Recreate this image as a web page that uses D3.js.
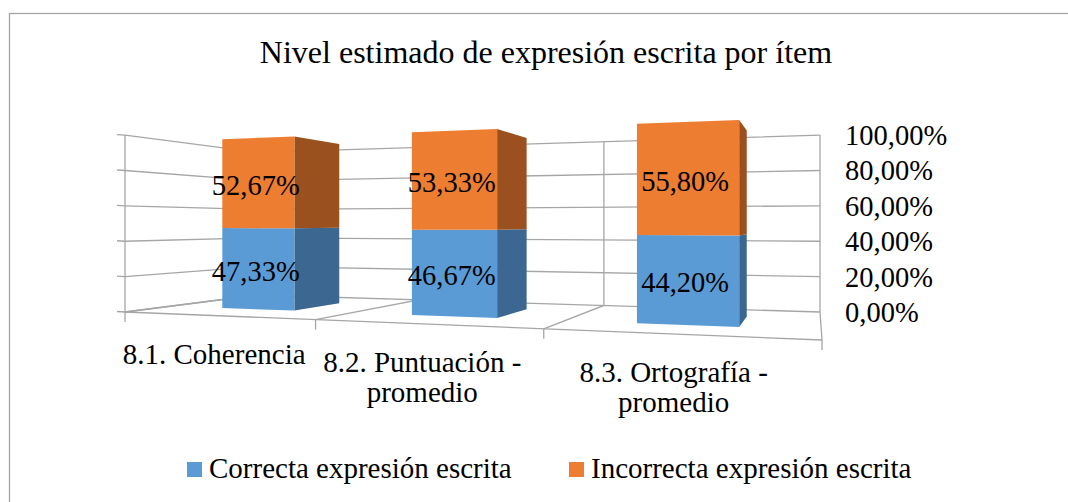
<!DOCTYPE html>
<html>
<head>
<meta charset="utf-8">
<script src="https://cdn.jsdelivr.net/npm/d3@7"></script>
<style>
  body { margin: 0; background: #fff; }
</style>
</head>
<body>
<div id="chart"></div>
<script>
// data
var categories = ["8.1. Coherencia", "8.2. Puntuación - promedio", "8.3. Ortografía - promedio"];
var seriesNames = ["Correcta expresión escrita", "Incorrecta expresión escrita"];
var correcta = [0.4733, 0.4667, 0.4420];
var incorrecta = [0.5267, 0.5333, 0.5580];
var valueTicks = [0, 0.2, 0.4, 0.6, 0.8, 1];

var frontColors = ["#5b9bd5", "#ed7d31"];
var sideColors = ["#3b6790", "#9b501f"];
var gridColor = "#a6a6a6";
var font = "Liberation Serif";

var width = 1068, height = 502;

// floor corners on screen (u = category direction, d = depth), 2 point perspective
var floor = {
    p00: [125, 312], // front left
    p10: [822, 340], // front right
    p11: [820, 312], // back right
    p01: [258, 295]  // back left
};
var horizon = 224, vScale = 2.01;

// square -> quad homography
function makeHomography(q) {
    var x0 = q.p00[0], y0 = q.p00[1], x1 = q.p10[0], y1 = q.p10[1],
        x2 = q.p11[0], y2 = q.p11[1], x3 = q.p01[0], y3 = q.p01[1];
    var dx1 = x1 - x2, dx2 = x3 - x2, dx3 = x0 - x1 + x2 - x3;
    var dy1 = y1 - y2, dy2 = y3 - y2, dy3 = y0 - y1 + y2 - y3;
    var den = dx1 * dy2 - dx2 * dy1;
    var g = (dx3 * dy2 - dx2 * dy3) / den;
    var h = (dx1 * dy3 - dx3 * dy1) / den;
    var a = x1 - x0 + g * x1, b = x3 - x0 + h * x3, c = x0;
    var d = y1 - y0 + g * y1, e = y3 - y0 + h * y3, f = y0;
    return function (u, v) {
        var w = g * u + h * v + 1;
        return [(a * u + b * v + c) / w, (d * u + e * v + f) / w];
    };
}
var H = makeHomography(floor);

var x = d3.scaleBand()
    .domain(categories)
    .range([0, 1])
    .paddingInner(0.6)
    .paddingOuter(0.3);

var y = d3.scaleLinear()
    .domain([0, 1])
    .range([0, 1]);

// project point (u, depth, value) to screen
function P(u, d, v) {
    var p = H(u, d);
    return [p[0], p[1] - y(v) * vScale * (p[1] - horizon)];
}

var depth0 = 0.3, depth1 = 0.7;

var locale = d3.formatLocale({ decimal: ",", thousands: ".", grouping: [3], currency: ["", " €"], percent: "%" });
var pct = locale.format(".2%");

var svg = d3.select("#chart")
    .append("svg")
    .attr("width", width)
    .attr("height", height)
    .attr("font-family", font);

svg.append("rect")
    .attr("width", width).attr("height", height)
    .attr("fill", "#fff");

svg.append("rect")
    .attr("x", 9.5).attr("y", 13.5)
    .attr("width", width).attr("height", height)
    .attr("fill", "none")
    .attr("stroke", "#a5a5a5")
    .attr("stroke-width", 1.3);

// title
svg.append("text")
    .attr("x", 546)
    .attr("y", 63)
    .attr("text-anchor", "middle")
    .attr("font-family", font)
    .attr("font-size", 32)
    .text("Nivel estimado de expresión escrita por ítem");

var grid = svg.append("g")
    .attr("fill", "none")
    .attr("stroke", gridColor)
    .attr("stroke-width", 1.3);

var line = d3.line();

// gridlines on left wall and back wall
valueTicks.forEach(function (t) {
    grid.append("path").attr("d", line([P(0, 0, t), P(0, 1, t), P(1, 1, t)]));
    var a = P(0, 0, t);
    grid.append("path").attr("d", line([[a[0] - 8, a[1] - 0.5], a]));
});

// category dividers (floor + back wall)
var dividers = [0, 1 / 3, 2 / 3, 1];
dividers.forEach(function (u) {
    grid.append("path").attr("d", line([P(u, 0, 0), P(u, 1, 0), P(u, 1, 1)]));
    var a = P(u, 0, 0);
    grid.append("path").attr("d", line([a, [a[0], a[1] + 10]]));
});
// front floor edge and front left vertical
grid.append("path").attr("d", line([P(0, 0, 0), P(1, 0, 0)]));
grid.append("path").attr("d", line([P(0, 0, 0), P(0, 0, 1)]));

// value axis labels
svg.append("g").selectAll("text")
    .data(valueTicks)
    .enter()
    .append("text")
    .attr("font-family", font)
    .attr("font-size", 28.5)
    .attr("x", function (d) { return P(1, 1, d)[0] + 25; })
    .attr("y", function (d) { return P(1, 1, d)[1] + 10; })
    .text(function (d) { return pct(d); });

// category labels
var catLabels = svg.append("g").selectAll("text")
    .data(categories)
    .enter()
    .append("text")
    .attr("text-anchor", "middle")
    .attr("font-family", font)
    .attr("font-size", 29)
    .attr("transform", function (d) {
        var u = x(d) + x.bandwidth() / 2;
        var p = P(u, 0, 0);
        return "translate(" + (p[0] - 2) + "," + (p[1] + 48) + ")";
    });
catLabels.selectAll("tspan")
    .data(function (d) { return d.replace(" - ", " -\n").split("\n"); })
    .enter()
    .append("tspan")
    .attr("x", 0)
    .attr("dy", function (d, i) { return i === 0 ? 0 : 30; })
    .text(function (d) { return d; });

// stacked bars
var table = categories.map(function (c, i) {
    return { cat: c, correcta: correcta[i], incorrecta: incorrecta[i] };
});
var stack = d3.stack().keys(["correcta", "incorrecta"]);
var series = stack(table);

var bars = svg.append("g");
series.forEach(function (s, si) {
    s.forEach(function (seg) {
        var u0 = x(seg.data.cat), u1 = u0 + x.bandwidth();
        var v0 = seg[0], v1 = seg[1];
        var g = bars.append("g");
        // right side face
        g.append("path")
            .attr("d", line([P(u1, depth0, v0), P(u1, depth1, v0), P(u1, depth1, v1), P(u1, depth0, v1)]) + "Z")
            .attr("fill", sideColors[si]);
        // front face
        g.append("path")
            .attr("d", line([P(u0, depth0, v0), P(u1, depth0, v0), P(u1, depth0, v1), P(u0, depth0, v1)]) + "Z")
            .attr("fill", frontColors[si]);
    });
});

// data labels
series.forEach(function (s) {
    svg.append("g").selectAll("text")
        .data(s)
        .enter()
        .append("text")
        .attr("text-anchor", "middle")
        .attr("font-family", font)
        .attr("font-size", 28.5)
        .attr("x", function (d) {
            var u = x(d.data.cat) + x.bandwidth() / 2;
            return P(u, depth0, 0)[0] - 2;
        })
        .attr("y", function (d) {
            var u = x(d.data.cat) + x.bandwidth() / 2;
            return P(u, depth0, (d[0] + d[1]) / 2)[1] + 12;
        })
        .text(function (d) { return pct(d[1] - d[0]); });
});

// legend
var legend = svg.append("g").selectAll("g")
    .data(seriesNames)
    .enter()
    .append("g")
    .attr("transform", function (d, i) { return "translate(" + [187, 569][i] + ",462)"; });
legend.append("rect")
    .attr("width", 15).attr("height", 15)
    .attr("fill", function (d, i) { return frontColors[i]; });
legend.append("text")
    .attr("x", 22)
    .attr("y", 16)
    .attr("font-family", font)
    .attr("font-size", 29)
    .text(function (d) { return d; });
</script>
</body>
</html>
